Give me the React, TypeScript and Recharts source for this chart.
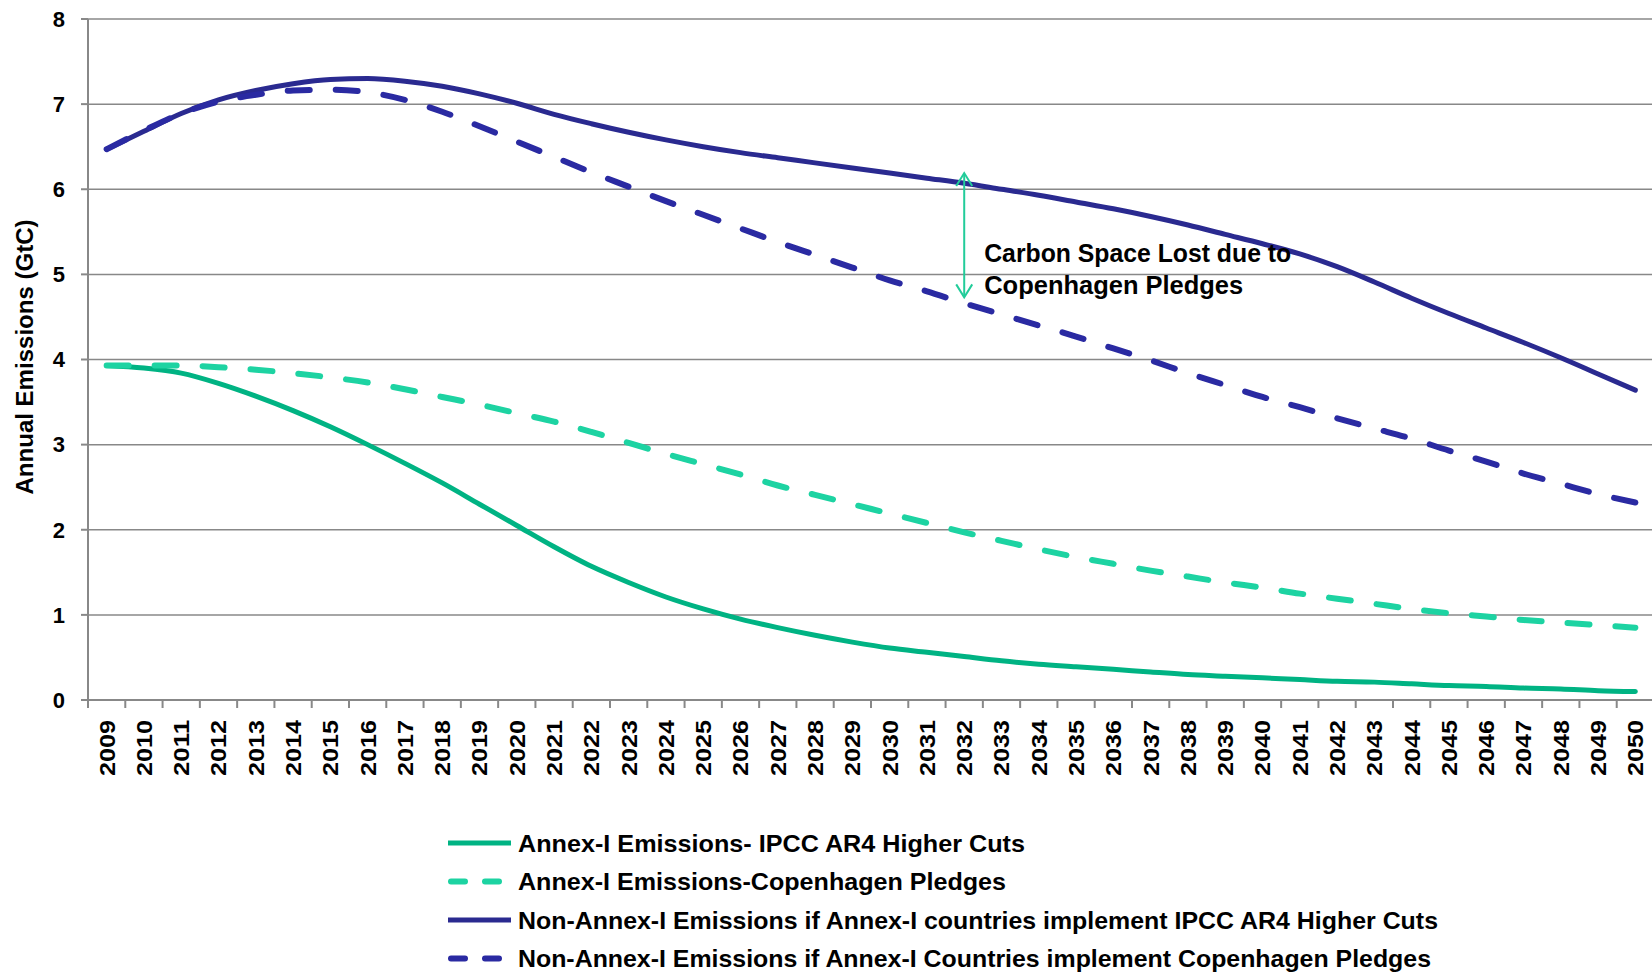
import React from 'react';
import { LineChart, Line, XAxis, YAxis, CartesianGrid, ReferenceLine, Legend } from 'recharts';

// ---------- data ----------
const YEARS = [
  '2009', '2010', '2011', '2012', '2013', '2014', '2015', '2016', '2017', '2018', '2019',
  '2020', '2021', '2022', '2023', '2024', '2025', '2026', '2027', '2028', '2029', '2030',
  '2031', '2032', '2033', '2034', '2035', '2036', '2037', '2038', '2039', '2040', '2041',
  '2042', '2043', '2044', '2045', '2046', '2047', '2048', '2049', '2050',
];

const ANNEX_HIGHER_CUTS = [
  3.93, 3.9, 3.84, 3.72, 3.57, 3.4, 3.21, 3.0, 2.78, 2.55, 2.3,
  2.05, 1.8, 1.57, 1.38, 1.21, 1.07, 0.95, 0.85, 0.76, 0.68, 0.61,
  0.56, 0.51, 0.46, 0.42, 0.39, 0.36, 0.33, 0.3, 0.28, 0.26, 0.24,
  0.22, 0.21, 0.19, 0.17, 0.16, 0.14, 0.13, 0.11, 0.1,
];

const ANNEX_COPENHAGEN = [
  3.93, 3.93, 3.93, 3.91, 3.88, 3.84, 3.79, 3.73, 3.65, 3.56, 3.47,
  3.37, 3.27, 3.15, 3.02, 2.89, 2.77, 2.65, 2.52, 2.41, 2.3, 2.19,
  2.08, 1.97, 1.87, 1.77, 1.68, 1.6, 1.52, 1.45, 1.38, 1.32, 1.25,
  1.19, 1.13, 1.07, 1.02, 0.98, 0.94, 0.91, 0.88, 0.85,
];

const NON_ANNEX_HIGHER_CUTS = [
  6.47, 6.68, 6.89, 7.05, 7.16, 7.24, 7.29, 7.3, 7.27, 7.21, 7.12,
  7.01, 6.88, 6.77, 6.67, 6.58, 6.5, 6.43, 6.37, 6.31, 6.25, 6.19,
  6.13, 6.07, 6.0, 5.93, 5.85, 5.77, 5.68, 5.58, 5.47, 5.36, 5.24,
  5.09, 4.91, 4.72, 4.54, 4.37, 4.2, 4.02, 3.83, 3.64,
];

const NON_ANNEX_COPENHAGEN = [
  6.47, 6.69, 6.89, 7.03, 7.11, 7.16, 7.17, 7.14, 7.05, 6.91, 6.74,
  6.56, 6.38, 6.2, 6.03, 5.86, 5.7, 5.54, 5.38, 5.23, 5.08, 4.93,
  4.8, 4.66, 4.53, 4.4, 4.27, 4.13, 3.99, 3.84, 3.7, 3.56, 3.44,
  3.31, 3.19, 3.07, 2.93, 2.8, 2.66, 2.54, 2.42, 2.32,
];

const SERIES_NAMES = [
  'Annex-I Emissions- IPCC AR4 Higher Cuts',
  'Annex-I Emissions-Copenhagen Pledges',
  'Non-Annex-I Emissions if Annex-I countries implement IPCC AR4 Higher Cuts',
  'Non-Annex-I Emissions if Annex-I Countries implement Copenhagen Pledges',
];

const Y_TICKS = [0, 1, 2, 3, 4, 5, 6, 7, 8];
const Y_TITLE = 'Annual Emissions (GtC)';
const ANNOTATION_LINES = ['Carbon Space Lost due to', 'Copenhagen Pledges'];
const ARROW_YEAR = '2032';
const ARROW_TOP = 6.19;
const ARROW_BOTTOM = 4.73;

// ---------- layout / style ----------
const FONT = '"Liberation Sans", Arial, sans-serif';
const CHART_W = 1654;
const CHART_H = 975;
const YAXIS_W = 88;
const XAXIS_H = 275;
const MARGIN_TOP = 19;
const BAND = (CHART_W - YAXIS_W) / YEARS.length;
const GRID = '#888888';
const ARROW_COLOR = '#22CC9A';

const SERIES_STYLE = [
  { key: 's1', color: '#00B383', dash: undefined as string | undefined, width: 5 },
  { key: 's2', color: '#1DD3A2', dash: '22 26', width: 6 },
  { key: 's3', color: '#2A2A90', dash: undefined as string | undefined, width: 5 },
  { key: 's4', color: '#2A2AA2', dash: '22 26', width: 6 },
];
const SERIES_VALUES = [ANNEX_HIGHER_CUTS, ANNEX_COPENHAGEN, NON_ANNEX_HIGHER_CUTS, NON_ANNEX_COPENHAGEN];

const LEGEND_X0 = 448;
const LEGEND_X1 = 511;
const LEGEND_TEXT_X = 518;
const LEGEND_Y0 = 843;
const LEGEND_DY = 38.5;
const LEGEND_TEXT_LEN = [507, 488, 920, 913];

const data = YEARS.map((year, i) => {
  const row: Record<string, string | number> = { year };
  SERIES_STYLE.forEach((s, k) => {
    row[s.key] = SERIES_VALUES[k][i];
  });
  return row;
});

const XTick = (props: any) => {
  const { x, y, payload } = props;
  const bx = x - BAND / 2;
  return (
    <g>
      <line x1={bx} y1={y} x2={bx} y2={y + 8} stroke={GRID} strokeWidth={2} />
      <text
        transform={`translate(${x},${y + 20}) rotate(-90)`}
        textAnchor="end"
        dy="0.36em"
        fontSize={22}
        fontWeight="bold"
        fontFamily={FONT}
        fill="#000"
        textLength={56}
        lengthAdjust="spacingAndGlyphs"
      >
        {payload.value}
      </text>
    </g>
  );
};

const YTitle = () => (
  <text
    transform="translate(24,357) rotate(-90)"
    textAnchor="middle"
    dy="0.36em"
    fontSize={24}
    fontWeight="bold"
    fontFamily={FONT}
    fill="#000"
    textLength={275}
    lengthAdjust="spacingAndGlyphs"
  >
    {Y_TITLE}
  </text>
);

const ArrowShape = (p: any) => {
  const x = p.x1;
  const top = Math.min(p.y1, p.y2);
  const bot = Math.max(p.y1, p.y2);
  const lens = [307, 259];
  return (
    <g>
      <line x1={x} y1={top + 1} x2={x} y2={bot - 1} stroke={ARROW_COLOR} strokeWidth={2} />
      <polyline points={`${x - 8},${top + 13} ${x},${top} ${x + 8},${top + 13}`} fill="none" stroke={ARROW_COLOR} strokeWidth={2} />
      <polyline points={`${x - 8},${bot - 13} ${x},${bot} ${x + 8},${bot - 13}`} fill="none" stroke={ARROW_COLOR} strokeWidth={2} />
      {ANNOTATION_LINES.map((t, i) => (
        <text
          key={i}
          x={x + 20}
          y={bot - 35 + i * 32}
          fontSize={25}
          fontWeight="bold"
          fontFamily={FONT}
          fill="#000"
          textLength={lens[i]}
          lengthAdjust="spacingAndGlyphs"
        >
          {t}
        </text>
      ))}
    </g>
  );
};

const renderLegend = () => (
  <svg
    width={1652}
    height={975}
    style={{ position: 'absolute', left: 0, top: 0, overflow: 'visible', pointerEvents: 'none' }}
  >
    {SERIES_NAMES.map((name, i) => {
      const s = SERIES_STYLE[i];
      const cy = LEGEND_Y0 + i * LEGEND_DY;
      return (
        <g key={name}>
          <line
            x1={LEGEND_X0 + (s.dash ? 3 : 0)}
            y1={cy}
            x2={LEGEND_X1 - (s.dash ? 3 : 0)}
            y2={cy}
            stroke={s.color}
            strokeWidth={s.width}
            strokeDasharray={s.dash ? '14 20' : undefined}
            strokeLinecap={s.dash ? 'round' : 'butt'}
          />
          <text
            x={LEGEND_TEXT_X}
            y={cy}
            dy="0.36em"
            fontSize={24}
            fontWeight="bold"
            fontFamily={FONT}
            fill="#000"
            textLength={LEGEND_TEXT_LEN[i]}
            lengthAdjust="spacingAndGlyphs"
          >
            {name}
          </text>
        </g>
      );
    })}
  </svg>
);

export default function App() {
  return (
    <div
      style={{
        position: 'absolute',
        left: 0,
        top: 0,
        width: 1652,
        height: 975,
        overflow: 'hidden',
        background: '#fff',
      }}
    >
      <LineChart
        width={CHART_W}
        height={CHART_H}
        data={data}
        margin={{ top: MARGIN_TOP, right: 0, bottom: 0, left: 0 }}
      >
        <CartesianGrid vertical={false} stroke={GRID} strokeWidth={1.5} />
        <XAxis
          dataKey="year"
          scale="band"
          interval={0}
          height={XAXIS_H}
          tickLine={false}
          tickSize={0}
          tickMargin={0}
          axisLine={{ stroke: GRID, strokeWidth: 2 }}
          tick={<XTick />}
        />
        <YAxis
          width={YAXIS_W}
          domain={[0, 8]}
          ticks={Y_TICKS}
          interval={0}
          tickSize={7}
          tickMargin={16}
          tickLine={{ stroke: GRID, strokeWidth: 2 }}
          axisLine={{ stroke: GRID, strokeWidth: 2 }}
          tick={{ fontSize: 22, fontWeight: 'bold', fill: '#000', fontFamily: FONT }}
          label={() => <YTitle />}
        />
        {SERIES_STYLE.map((s, i) => (
          <Line
            key={s.key}
            dataKey={s.key}
            name={SERIES_NAMES[i]}
            type="monotone"
            stroke={s.color}
            strokeWidth={s.width}
            strokeDasharray={s.dash}
            strokeLinecap="round"
            dot={false}
            activeDot={false}
            isAnimationActive={false}
          />
        ))}
        <ReferenceLine
          segment={[
            { x: ARROW_YEAR, y: ARROW_TOP },
            { x: ARROW_YEAR, y: ARROW_BOTTOM },
          ]}
          stroke={ARROW_COLOR}
          shape={(p: any) => <ArrowShape {...p} />}
        />
        <Legend
          content={renderLegend}
          wrapperStyle={{ left: 0, top: 0, width: 0, height: 0, overflow: 'visible' }}
        />
      </LineChart>
    </div>
  );
}
